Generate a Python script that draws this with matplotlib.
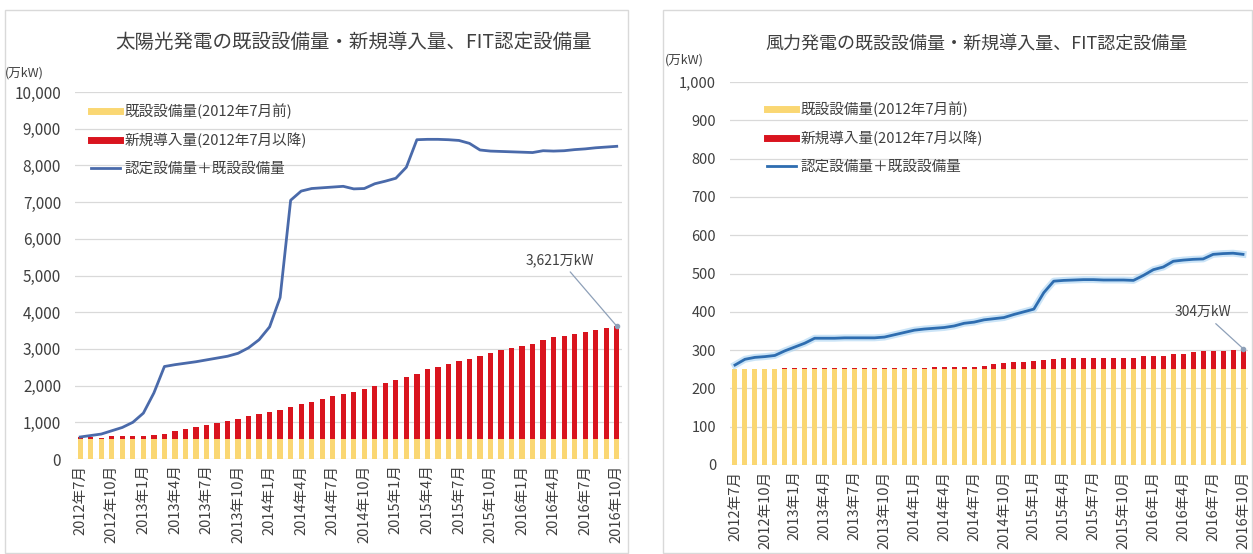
import matplotlib
matplotlib.use("Agg")
import matplotlib.pyplot as plt
from matplotlib.lines import Line2D
from matplotlib.patches import Rectangle
import numpy as np

plt.rcParams["font.family"] = ["Noto Sans CJK JP", "DejaVu Sans"]

# ──────────────────────────────────────────────────────────────────────
#  Data (万kW), monthly 2012年7月 … 2016年10月
# ──────────────────────────────────────────────────────────────────────
tick_labels = [
    "2012年7月", "2012年10月", "2013年1月", "2013年4月", "2013年7月", "2013年10月",
    "2014年1月", "2014年4月", "2014年7月", "2014年10月", "2015年1月", "2015年4月",
    "2015年7月", "2015年10月", "2016年1月", "2016年4月", "2016年7月", "2016年10月",
]

# solar
solar_existing = 555
solar_total = [
    600, 600, 580, 615, 630, 620, 630, 660, 690, 760, 820, 865, 935,
    985, 1045, 1090, 1160, 1225, 1280, 1340, 1405, 1490, 1565, 1625, 1705, 1760,
    1830, 1920, 1995, 2075, 2165, 2235, 2325, 2455, 2520, 2590, 2680, 2725, 2805,
    2885, 2965, 3020, 3085, 3145, 3235, 3325, 3350, 3415, 3460, 3505, 3575, 3621,
]
solar_certified = [
    600, 640, 680, 770, 860, 1000, 1250, 1800, 2520, 2570, 2610, 2650, 2700,
    2750, 2800, 2880, 3030, 3250, 3600, 4400, 7050, 7300, 7370, 7390, 7410, 7430,
    7360, 7370, 7500, 7570, 7650, 7950, 8700, 8710, 8710, 8700, 8680, 8600, 8420,
    8390, 8380, 8370, 8360, 8350, 8400, 8390, 8400, 8430, 8450, 8480, 8500, 8520,
]

# wind
wind_existing = 250
wind_total = [
    250, 250, 250, 250, 251, 252, 252, 254, 254, 254, 254, 254, 254,
    254, 254, 254, 254, 254, 254, 254, 257, 257, 257, 257, 257, 258,
    263, 266, 269, 270, 272, 275, 278, 279, 279, 279, 280, 280, 280,
    280, 280, 285, 285, 285, 289, 291, 294, 298, 298, 298, 300, 304,
]
wind_certified = [
    261, 276, 281, 283, 286, 298, 308, 318, 331, 331, 331, 332, 332,
    332, 332, 334, 340, 346, 352, 355, 357, 359, 363, 370, 373, 379,
    382, 385, 393, 400, 407, 450, 480, 482, 483, 484, 484, 483, 483,
    483, 482, 495, 510, 517, 532, 535, 537, 538, 550, 552, 553, 550,
]

legend_labels = ["既設設備量(2012年7月前)", "新規導入量(2012年7月以降)", "認定設備量＋既設設備量"]

YELLOW = "#FAD773"
RED = "#D9141E"
GRID = "#D9D9D9"
TEXT = "#404040"

W, H = 1253, 554
fig = plt.figure(figsize=(W / 100, H / 100), dpi=100)


def fx(px):
    return px / W


def fy(py):
    return 1 - py / H


# panel frames
for x0, x1 in [(5, 628), (663, 1252)]:
    fig.patches.append(Rectangle((fx(x0), fy(553)), fx(x1 - x0), (553 - 10) / H,
                                 transform=fig.transFigure, fill=False,
                                 edgecolor=GRID, linewidth=1.0))


def draw_panel(rect, total, existing, certified, ymax, ystep, line_color, glow,
               title, title_xy, title_size, unit_xy, note, note_xy, legend_anchor,
               tick_size):
    ax = fig.add_axes(rect)
    n = len(total)
    x = np.arange(n)
    base = np.full(n, existing)
    new = np.array(total) - existing

    ax.bar(x, base, width=0.5, color=YELLOW, zorder=2)
    ax.bar(x, new, bottom=base, width=0.5, color=RED, zorder=2)
    if glow:
        # soft halo under the line, as in the source chart
        ax.plot(x, certified, color=glow, linewidth=5, alpha=0.6, zorder=3)
    ax.plot(x, certified, color=line_color, linewidth=2.0, zorder=3)

    ax.set_xlim(-0.5, n - 0.5)
    ax.set_ylim(0, ymax)
    ax.set_yticks(np.arange(0, ymax + 1, ystep))
    ax.set_yticklabels([f"{v:,}" for v in np.arange(0, ymax + 1, ystep)])
    ax.set_xticks(np.arange(0, n, 3))
    ax.set_xticklabels(tick_labels, rotation=90)
    ax.tick_params(axis="y", length=0, pad=10, labelsize=tick_size, colors=TEXT)
    ax.tick_params(axis="x", length=0, pad=4, labelsize=10.5, colors=TEXT)
    ax.grid(axis="y", color=GRID, linewidth=0.9, zorder=0)
    for s in ax.spines.values():
        s.set_visible(False)

    # end-point annotation
    ax.annotate(note, xy=(n - 1, total[-1]), xytext=note_xy,
                textcoords="figure pixels", fontsize=10, color=TEXT, ha="center",
                arrowprops=dict(arrowstyle="-", color="#8EA0B8", linewidth=0.9,
                                shrinkA=2, shrinkB=0))
    ax.plot([n - 1], [total[-1]], "o", color="#8EA0B8", markersize=3, zorder=4)

    fig.text(fx(title_xy[0]), fy(title_xy[1]), title, ha="center", va="center",
             fontsize=title_size, color=TEXT)
    fig.text(fx(unit_xy[0]), fy(unit_xy[1]), "(万kW)", ha="left", va="center",
             fontsize=9, color=TEXT)

    handles = [
        Line2D([], [], color=YELLOW, linewidth=5),
        Line2D([], [], color=RED, linewidth=5),
        Line2D([], [], color=line_color, linewidth=2),
    ]
    ax.legend(handles, legend_labels, loc="upper left", bbox_to_anchor=legend_anchor,
              bbox_transform=fig.transFigure, frameon=False, fontsize=10.5,
              labelspacing=0.95, handlelength=2.0, handletextpad=0.3,
              labelcolor=TEXT)
    return ax


draw_panel([fx(75), fy(459), fx(622 - 75), (459 - 92) / H],
           solar_total, solar_existing, solar_certified, 10000, 1000, "#4A6AAA", None,
           "太陽光発電の既設設備量・新規導入量、FIT認定設備量", (354, 42), 14,
           (5, 73), "3,621万kW", (560, 290), (fx(78), fy(90)), 11)

draw_panel([fx(730), fy(465), fx(1248 - 730), (465 - 82) / H],
           wind_total, wind_existing, wind_certified, 1000, 100, "#2E6DB0", "#A9D3F2",
           "風力発電の既設設備量・新規導入量、FIT認定設備量", (977, 45), 13,
           (665, 60), "304万kW", (1203, 238), (fx(754), fy(88)), 10.5)

fig.savefig("out.png", dpi=100)
